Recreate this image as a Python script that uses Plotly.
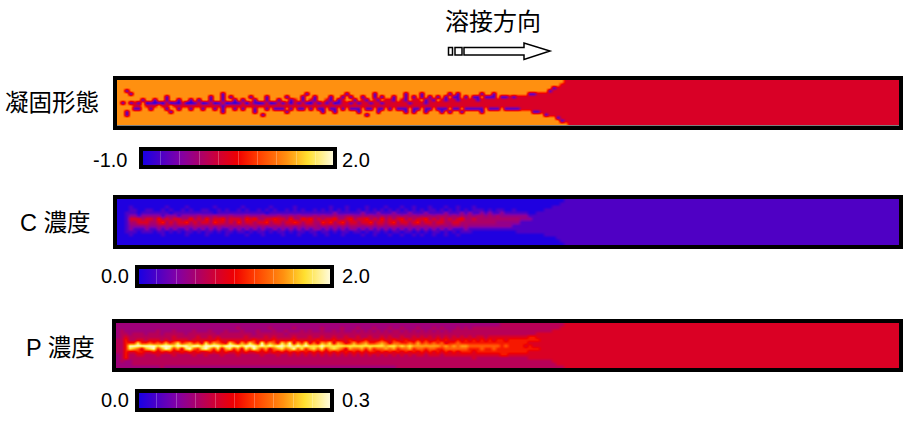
import plotly.graph_objects as go

W, H = 911, 424
FONT = "Liberation Sans, Noto Sans CJK JP"

### Data. one string per row, one character per cell

solid_rows = [
    ".......... .......... .......... .......... .......... .......... .......... .......... .......... .......... .......... ..rr",
    ".......... .......... .......... .......... .......... .......... .......... .......... .......... .......... .......... .rrr",
    ".......... .......... .......... .......... .......... .......... .......... .......... .......... .......... .........p rrrr",
    "..p....... .......... .......... .......... .......... .......... .......... .......... .......... .......... ........pr rrrr",
    "...p...... .......... ......p... .......... .......p.. .......p.. ....p..... ..p...p... ...p.p.... .p..p..... ...pprrrrr rrrr",
    ".......... ..p....... ...p..p.p. ...p...p.. ..p...p..p ...p..p.p. .p..p.p..p ..p.p.p.p. p.p.pp.p.p p.ppp.pprp rrrrrrrrrr rrrr",
    "......p..p ..p..p..p. p..p..p..p .p..p..p.. p..pr.p.rp ..rp.pr..p .rp.rp.rrp .rp.rr.prp .rprrprrrr prrrrrrrrr rrrrrrrrrr rrrr",
    ".p.prp.bpb pbrbpbrbbp rbprbprbpb prbrpbprbp rprbrprpbr prprbprrpr prrprrprrr rrrprrrprr rrrrrrrrrr rrrrrrrrrr rrrrrrrrrr rrrr",
    "....rr.rrr .rr.rrrrrr rrrrrrprrr rrrrrrrrrr rrrrrrrrrr rrrrrrrrrr rrrrrrrrrr rrrrrrrrrr rrrrrrrrrr rrrrrrrrrr rrrrrrrrrr rrrr",
    "....pp..p. ..p..p..p. .p..p.p..p .p..p..p.p pp.p.pp.p. pp.pp.p.pp p.pp.pp.p. ppp.pp.pp. ppp.pp.ppp pp.ppp.ppp prrrrrrrrr rrrr",
    "..p....... ...p...... ......p... ....p..... ..p....... .p..p..... p....p.... ..p.p..p.. .p.p..p... .p........ ....pprrrr rrrr",
    "..p....... .......... .......... ......p... .......... .......... ..p....... .......... .......... .......... .......prr rrrr",
    ".......... .......... .......... .......... .......... .......... .......... .......... .......... .......... .......... prrr",
    ".......... .......... .......... .......... .......... .......... .......... .......... .......... .......... .......... .prr",
    ".......... .......... .......... .......... .......... .......... .......... .......... .......... .......... .......... ...r",
]

carbon_rows = [
    "0000000000 0000000000 0000000000 0000000000 0000000000 0000000000 0000000000 0000000000 0000000000 0000000000 0000000000 0011",
    "0000000000 0000000000 0000000000 0000000000 0000000000 0000000000 0000000000 0000000000 0000000000 0000000000 0000000000 0111",
    "0001000000 0010000100 0000100000 0100000010 0000100000 0001000100 0010000100 0100100010 0010010001 0000000000 0000000001 1111",
    "0001100110 0101001010 0110010100 1010010101 0010101001 0101010100 1010101010 1010101011 0101010101 1101011001 0000000111 1111",
    "0011101111 1110111111 1111011111 1111111011 1111111111 1111211111 1211121112 1112111211 1121112121 1212112111 1110011111 1111",
    "0012212222 2122212222 3222322232 2232223222 3223232223 2322322332 2323223232 3232323232 3332323232 3323232222 2221111111 1111",
    "0014443443 5343443353 4353445344 4354533445 4435335453 4344533453 4453435343 4534344534 3434345334 3333333333 3222111111 1111",
    "0013344433 4534344534 3443544343 5344344534 4344543443 3545345344 3445344345 3443453443 4433443333 3333322222 2111111111 1111",
    "0012222322 3233233223 3223232323 2323323232 3233232333 2332323233 3233233233 3232323233 3232332322 2222222221 1111111111 1111",
    "0012111211 2121211212 1212121121 2121212112 1212121212 2121212122 1212121212 1212121212 1212111211 1111111111 1111111111 1111",
    "0011101110 1101010110 1011010110 1101011010 1101011011 0110101101 1010110101 1011010101 1010101110 0000000000 1111111111 1111",
    "0001000000 0100000100 0010000100 0010001000 0100010001 0010001000 0100100010 0100101001 0010010000 0000000000 0000000111 1111",
    "0000000000 0000000000 0000000000 0000000000 0000000000 0000000000 0000000000 0000000000 0000000000 0000000000 0000000000 1111",
    "0000000000 0000000000 0000000000 0000000000 0000000000 0000000000 0000000000 0000000000 0000000000 0000000000 0000000000 0111",
    "0000000000 0000000000 0000000000 0000000000 0000000000 0000000000 0000000000 0000000000 0000000000 0000000000 0000000000 0011",
]

phos_rows = [
    "2222222222 2222222222 2222222222 2222222222 2222222222 2222222222 2222222222 2222222222 2222222222 2222223333 3333333333 3344",
    "2222222222 2222222222 2222222222 3222222232 2222322222 2322223222 3222322232 2322232223 2322232323 3333333333 3333333333 3444",
    "2322222222 3222322223 2223222322 2322232223 2232223232 2322323223 2323232323 3232323232 3232333333 3333333333 3333333334 4444",
    "2332333233 3233333233 3333323333 3333233333 3323333333 3333333333 3333333333 3333333333 3333333333 3333333333 3333344444 4444",
    "2343333333 3333433333 4334343333 3343333434 3333433343 3433433433 4334334343 3433434343 4343434343 4434444444 4445544444 4444",
    "3353344344 4343444434 4444454444 4444544445 4444544444 5444544454 4454445445 4454454544 5454454545 4545455455 5555554444 4444",
    "3355585565 6575685675 6485765486 4758649576 4869475846 4768476457 5675567646 6556575656 5645565555 5555555555 5554444444 4444",
    "3359999999 8999899989 9899998999 9899989898 9989898988 8988888888 8888888788 7878777777 7676767766 6666665655 5545444444 4444",
    "3358764789 5798574896 5897584785 7486975746 7867968578 6857876476 6757566767 5667566566 5566666655 5655655555 5555554444 4444",
    "3354455445 4545445454 5445454544 5454454545 4545454545 4545454545 4545545454 5454545454 5454545554 5555555555 5554444444 4444",
    "2353344333 4333433334 3343334333 4333334333 4334343434 3434343434 3434343434 3434344344 4344444444 4444445544 4444444444 4444",
    "2353333333 3333333333 3333333333 3333333333 3333333333 3333333333 3333333333 3333333333 3333333334 3333333333 3334444444 4444",
    "2322333333 3333333333 3333333333 3333333333 3333333333 3333333333 3333333333 3333333333 3333333333 3333333333 3333333334 4444",
    "2222333333 3333333333 3333333333 3333333333 3333333333 3333333333 3333333333 3333333333 3333333333 3333333333 3333333333 4444",
    "2222222222 2322222222 2222222222 2222222222 2222222222 2222222222 2222222222 3333333333 3333333333 3333333333 3333333333 3344",
]

solid_values = {".": 1.25, "r": 0.28, "p": -0.7, "b": -0.95}
carbon_levels = [0.02, 0.11, 0.25, 0.31, 0.43, 0.54, 0.66, 0.78, 0.88, 0.98]
phos_levels = [0.02, 0.11, 0.28, 0.34, 0.43, 0.54, 0.66, 0.78, 0.88, 0.98]

ranges = [[-1.0, 2.0], [0.0, 2.0], [0.0, 0.3]]
range_labels = [["-1.0", "2.0"], ["0.0", "2.0"], ["0.0", "0.3"]]
titles = ["凝固形態", "C 濃度", "P 濃度"]

colors = [
    [0.0, "#1400e6"], [0.2, "#8000a8"], [0.4, "#d00034"], [0.5, "#f00000"],
    [0.6, "#ff3c00"], [0.75, "#ff9010"], [0.86, "#ffe030"], [1.0, "#fffde8"],
]


def px(x):
    return x / W


def py(y):
    return 1 - y / H


def expand(rows, convert):
    # the right part of each strip is flat, so the last cell runs on to the end
    out = []
    for row in rows:
        cells = row.replace(" ", "")
        cells = cells.ljust(196, cells[-1])
        out.append([convert(c) for c in cells])
    return out


def label(text, x, y, size, xanchor="center"):
    fig.add_annotation(x=px(x), y=py(y), text=text, xref="paper", yref="paper",
                       xanchor=xanchor, yanchor="middle", showarrow=False,
                       font=dict(size=size, family=FONT, color="black"))


z_solid = expand(solid_rows, lambda c: solid_values[c])
z_carbon = expand(carbon_rows, lambda c: carbon_levels[int(c)] * 2.0)
z_phos = expand(phos_rows, lambda c: phos_levels[int(c)] * 0.3)

fig = go.Figure()

# inner box of each strip, and of each colour bar
strips = [(116.5, 899, 80, 125.5), (116.5, 899, 199, 245), (115.5, 899, 323, 368)]
bars = [(143, 333, 150, 164), (139, 330, 268, 283), (139, 330, 392, 407)]
left_label_x = [129, 131, 131]
right_label_x = [340, 340, 340]
label_y = [160, 276, 400]

for i, z in enumerate([z_solid, z_carbon, z_phos]):
    n = "" if i == 0 else str(i + 1)
    x0, x1, y0, y1 = strips[i]
    bx0, bx1, by0, by1 = bars[i]
    zmin, zmax = ranges[i]
    fig.add_trace(go.Heatmap(
        z=z, zmin=zmin, zmax=zmax, colorscale=colors, zsmooth="best",
        xaxis="x" + n, yaxis="y" + n, hoverinfo="skip",
        colorbar=dict(
            orientation="h", x=px(bx0 - 2), y=py(by0 - 1), xanchor="left", yanchor="top",
            lenmode="pixels", len=bx1 - bx0 + 4, thicknessmode="pixels", thickness=by1 - by0 + 4,
            xpad=0, ypad=0, outlinecolor="black", outlinewidth=4, borderwidth=0,
            ticks="inside", ticklen=by1 - by0 + 4, tickwidth=1, tickcolor="rgba(255,255,255,0.25)",
            tick0=zmin, dtick=(zmax - zmin) / 10, showticklabels=False,
        ),
    ))
    axis = dict(showline=True, mirror=True, linecolor="black", linewidth=4,
                showticklabels=False, ticks="", showgrid=False, zeroline=False)
    fig.update_layout({
        "xaxis" + n: dict(axis, domain=[px(x0), px(x1)], anchor="y" + n, constrain="domain"),
        "yaxis" + n: dict(axis, domain=[py(y1), py(y0)], anchor="x" + n, autorange="reversed"),
    })
    label(range_labels[i][0], left_label_x[i], label_y[i], 20, "right")
    label(range_labels[i][1], right_label_x[i], label_y[i], 20, "left")

# strip titles
for text, cx, cy in zip(titles, [52, 55, 60], [103, 223, 348]):
    label(text, cx, cy, 23.5)

label("溶接方向", 492.5, 21, 24)

# direction arrow with the two small boxes behind it
line = dict(color="black", width=1.5)
for a, b in [(448.5, 452.5), (455, 462)]:
    fig.add_shape(type="rect", xref="paper", yref="paper", line=line,
                  x0=px(a), x1=px(b), y0=py(47.5), y1=py(55))
arrow = [(464, 47.5), (524, 47.5), (524, 43), (550, 51), (524, 59.5), (524, 55), (464, 55)]
path = "M " + " L ".join(f"{px(a)} {py(b)}" for a, b in arrow) + " Z"
fig.add_shape(type="path", xref="paper", yref="paper", path=path, line=line, fillcolor="white")

fig.update_layout(
    width=W, height=H, margin=dict(l=0, r=0, t=0, b=0, autoexpand=False), showlegend=False,
    paper_bgcolor="white", plot_bgcolor="black",
)

fig.write_html("out.html", config={"displayModeBar": False},
               post_script="document.body.style.margin = '0';")
